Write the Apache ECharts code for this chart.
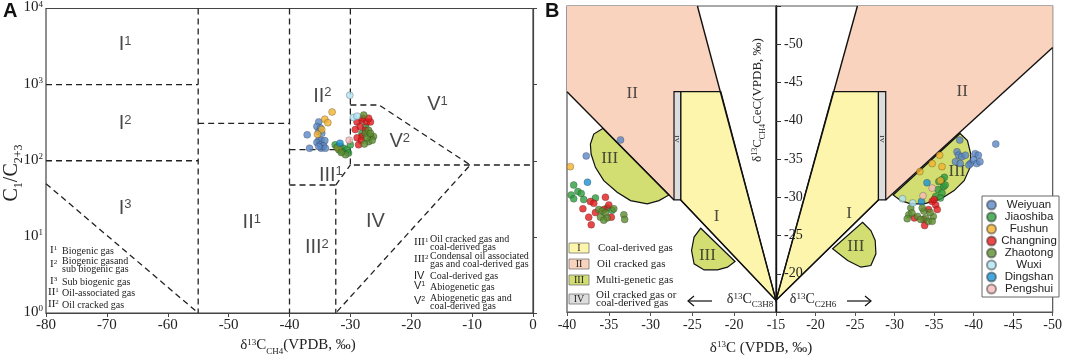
<!DOCTYPE html>
<html lang="en">
<head>
<meta charset="UTF-8" />
<script src="https://cdn.jsdelivr.net/npm/echarts@6/dist/echarts.min.js"></script>
<title>Gas genetic diagrams</title>
<style>
  html, body { margin: 0; padding: 0; background: #fff; }
  #app { width: 1065px; height: 358px; }
</style>
</head>
<body>
<div id="app"></div>
<script>
const sites = ["Weiyuan", "Jiaoshiba", "Fushun", "Changning", "Zhaotong", "Wuxi", "Dingshan", "Pengshui"];
const siteColors = ["#5b87c6", "#2e9c3f", "#f3b12c", "#e41a1c", "#5b8c2e", "#aee4f3", "#1a90d4", "#f6b9b9"];

// panel A: [d13C CH4, C1/C2+3]
const aWeiyuan = [[-37.1,219],[-36.7,146],[-35.2,324],[-35.5,282],[-34.9,269],[-35.2,240],[-34.7,229],[-35.2,186],[-34.8,186],[-34.2,184],[-35.5,174],[-34.9,162],[-34.4,157],[-34.8,146],[-34.1,146],[-35.2,154]];
const aJiaoshiba = [[-32.5,162],[-31.65,154],[-31.1,146],[-30.55,140],[-31.4,132],[-31.9,140],[-30.0,162],[-28.1,229],[-27.5,282],[-30.3,126]];
const aFushun = [[-33.0,437],[-34.2,352],[-33.7,316],[-34.7,257],[-35.4,223],[-32.0,146]];
const aChangning = [[-28.9,324],[-28.1,343],[-27.3,324],[-26.7,324],[-28.4,282],[-29.2,257],[-27.5,251],[-28.0,363],[-27.0,363],[-28.1,209],[-28.9,200],[-28.2,184],[-28.65,162]];
const aZhaotong = [[-27.8,398],[-27.5,229],[-27.0,251],[-26.7,209],[-26.2,209],[-27.0,178],[-26.4,186],[-27.3,200],[-26.7,229],[-27.7,166],[-30.8,120],[-31.5,128],[-32.2,150]];
const aWuxi = [[-30.1,725],[-29.5,370],[-28.9,385]];
const aDingshan = [[-31.7,170]];
const aPengshui = [[-30.2,186]];

// panel B left: [d13C C3H8, d13C CH4]
const bLWeiyuan = [[-33.6,-37.5],[-37.7,-35.4]];
const bLJiaoshiba = [[-39.2,-31.6],[-39.5,-30.3],[-39.2,-29.8],[-38.7,-30.75],[-38.3,-30.5],[-38.0,-29.7],[-36.6,-29.9],[-35.2,-28.6],[-34.6,-28.3]];
const bLFushun = [[-39.6,-34.0]];
const bLChangning = [[-37.2,-29.45],[-36.8,-29.2],[-35.4,-30.0],[-35.0,-29.0],[-38.1,-28.5],[-36.6,-28.0],[-37.4,-27.4],[-37.1,-26.4],[-34.7,-27.4],[-35.6,-28.4]];
const bLZhaotong = [[-36.2,-28.4],[-35.8,-28.2],[-35.4,-27.95],[-36.0,-27.4],[-35.2,-27.3],[-35.6,-27.0],[-34.4,-28.5],[-33.2,-27.7],[-33.1,-27.1]];
const bLWuxi = [];
const bLDingshan = [[-37.55,-31.97]];
const bLPengshui = [];

// panel B right: [d13C C2H6, d13C CH4]
const bRWeiyuan = [[-38.24,-37.47],[-37.9,-35.95],[-38.1,-35.5],[-37.7,-34.65],[-38.5,-35.3],[-38.96,-35.5],[-38.3,-34.4],[-39.6,-34.4],[-40.2,-35.7],[-40.6,-35.5],[-40.0,-34.9],[-40.4,-34.4],[-40.8,-34.65],[-39.4,-34.2],[-42.8,-36.95]];
const bRJiaoshiba = [[-35.6,-32.05],[-36.0,-32.3],[-36.2,-31.4],[-35.5,-31.0],[-36.0,-30.55],[-35.2,-30.1],[-35.8,-29.9],[-36.4,-31.6],[-36.3,-32.6]];
const bRFushun = [[-35.7,-35.5],[-34.76,-34.4],[-36.0,-34.0],[-33.2,-33.35],[-35.8,-32.2]];
const bRChangning = [[-34.76,-29.45],[-35.2,-29.0],[-34.3,-28.4],[-35.4,-28.4],[-33.7,-27.1],[-33.8,-26.3],[-32.5,-27.3],[-35.0,-29.7]];
const bRZhaotong = [[-32.05,-28.6],[-31.8,-27.7],[-31.6,-27.2],[-32.9,-27.5],[-33.7,-28.2],[-33.9,-27.3],[-34.3,-26.85],[-34.9,-27.5],[-34.76,-26.85],[-33.3,-27.1],[-32.2,-27.95],[-33.5,-28.6],[-34.5,-28.0]];
const bRWuxi = [[-31.0,-29.8],[-32.3,-29.25]];
const bRDingshan = [[-34.1,-31.9],[-33.4,-29.45]];
const bRPengshui = [[-34.76,-31.2],[-33.6,-30.2]];

// panel A dashed zone boundaries
const aBoundaries = [
  [[-80,1000],[-55,1000]],
  [[-80,100],[-55,100]],
  [[-80,50],[-55,1]],
  [[-55,10000],[-55,1]],
  [[-55,310],[-40,310]],
  [[-40,10000],[-40,1]],
  [[-40,140],[-30,140]],
  [[-40,48],[-32.4,48],[-32.4,1]],
  [[-32.4,48],[-30,88]],
  [[-30,10000],[-30,88],[0,88]],
  [[-30,540],[-25.3,540],[-10.3,88],[-32.4,1]]
];
const aZoneNames = ["I","I","I","II","II","III","III","IV","V","V"];
const aZoneSups = ["1","2","3","2","1","1","2","","1","2"];
const aZoneAt = [[-67,3240],[-67,300],[-67,23],[-34.6,680],[-46.2,14.8],[-33.2,63],[-35.5,7],[-25.9,15.5],[-15.7,525],[-21.9,174]];

// panel B zones, left half (C3H8) and right half (C2H6)
const bLeftPink = [[-40,-55],[-24.4,-55],[-21.6,-43.8],[-27.2,-43.8],[-27.2,-29.65],[-40,-43.8]];
const bLeftYellow = [[-26.4,-43.8],[-21.6,-43.8],[-15,-16.52],[-26.4,-29.65]];
const bLeftGray = [[-27.2,-43.8],[-26.4,-43.8],[-26.4,-29.65],[-27.2,-29.65]];
const bLeftLobeUpper = [[-35.72,-39.0],[-36.8,-38.26],[-37.2,-36.96],[-37.12,-35.65],[-36.6,-33.91],[-35.6,-32.17],[-34.0,-30.65],[-32.4,-29.56],[-30.4,-29.13],[-29.0,-29.56],[-27.8,-30.3]];
const bLeftLobeLower = [[-24.0,-25.95],[-24.8,-24.8],[-25.1,-23.04],[-24.8,-21.3],[-23.6,-20.5],[-22.0,-20.5],[-20.8,-20.86],[-19.9,-21.6]];
const bLeftEdges = [
  [[-24.4,-55],[-15,-16.52]],
  [[-40,-43.8],[-27.2,-29.65]],
  [[-26.4,-29.65],[-15,-16.52]]
];
const bRightPink = [[-25.3,-55],[-50,-55],[-50,-49.57],[-28.88,-29.65],[-28.88,-43.8],[-22.24,-43.8]];
const bRightYellow = [[-22.24,-43.8],[-27.96,-43.8],[-27.96,-29.65],[-15,-16.52]];
const bRightGray = [[-27.96,-43.8],[-28.88,-43.8],[-28.88,-29.65],[-27.96,-29.65]];
const bRightLobeUpper = [[-38.29,-38.34],[-39.22,-37.4],[-39.64,-35.65],[-39.55,-33.9],[-38.8,-32.17],[-37.53,-30.87],[-35.85,-29.78],[-33.74,-29.13],[-32.06,-29.13],[-30.8,-29.56],[-29.82,-30.3]];
const bRightLobeLower = [[-25.95,-26.73],[-27.0,-25.65],[-27.55,-24.35],[-27.64,-22.6],[-27.0,-21.08],[-25.74,-20.86],[-24.06,-21.74],[-22.16,-23.26]];
const bRightEdges = [
  [[-25.3,-55],[-15,-16.52]],
  [[-50,-49.57],[-28.88,-29.65]],
  [[-27.96,-29.65],[-15,-16.52]]
];
const bLeftZoneNames = ["II","III","III","I"];
const bLeftZoneAt = [[-32.2,-43.5],[-34.9,-35.0],[-23.2,-22.4],[-22.1,-27.5]];
const bRightZoneNames = ["II","III","III","I"];
const bRightZoneAt = [[-38.56,-43.8],[-37.9,-33.3],[-25.1,-23.6],[-24.26,-27.9]];

const SERIF = "Liberation Serif";
const SANS = "Liberation Sans";
const PINK = "#f9d3bd", YELLOW = "#fdf5ab", GREEN = "#d3de72", GRAY = "#dddddd";
const INK = "#222";

function richSet(size, family) {
  family = family || SERIF;
  const small = Math.round(size * 0.62);
  return {
    n: { fontFamily: family, fontSize: size, verticalAlign: "top", lineHeight: size + 2, color: INK },
    p: { fontFamily: family, fontSize: small, verticalAlign: "top", color: INK },
    b: { fontFamily: family, fontSize: small, verticalAlign: "bottom", lineHeight: size + 3, color: INK }
  };
}

function txt(x, y, text, size, opts) {
  opts = opts || {};
  return {
    type: "text", x: x, y: y, rotation: opts.rotation || 0, silent: true, z: 50,
    style: {
      text: text, rich: richSet(size, opts.family), fill: INK,
      font: size + "px " + (opts.family || SERIF),
      align: opts.align || "left", verticalAlign: "middle",
      textAlign: opts.align || "left", textVerticalAlign: "middle"
    }
  };
}

const aSets = [aWeiyuan, aJiaoshiba, aFushun, aChangning, aZhaotong, aWuxi, aDingshan, aPengshui];
const bLSets = [bLWeiyuan, bLJiaoshiba, bLFushun, bLChangning, bLZhaotong, bLWuxi, bLDingshan, bLPengshui];
const bRSets = [bRWeiyuan, bRJiaoshiba, bRFushun, bRChangning, bRZhaotong, bRWuxi, bRDingshan, bRPengshui];

function zoneSeries(shapes, xi, yi) {
  return {
    type: "custom", xAxisIndex: xi, yAxisIndex: yi, silent: true, z: 1,
    data: shapes.map(s => s.pts[0]),
    renderItem: function (params, api) {
      const s = shapes[params.dataIndex];
      const pts = s.pts.map(p => api.coord(p));
      if (s.fill) {
        return { type: "polygon", shape: { points: pts },
          style: { fill: s.fill, stroke: s.stroke ? "#111" : null, lineWidth: 1.2 } };
      }
      return { type: "polyline", shape: { points: pts }, style: { stroke: "#111", lineWidth: 1.4, fill: null } };
    }
  };
}

const leftShapes = [
  { pts: bLeftPink, fill: PINK },
  { pts: bLeftYellow, fill: YELLOW, stroke: true },
  { pts: bLeftGray, fill: GRAY, stroke: true },
  { pts: bLeftLobeUpper, fill: GREEN, stroke: true },
  { pts: bLeftLobeLower, fill: GREEN, stroke: true }
].concat(bLeftEdges.map(e => ({ pts: e })));
const rightShapes = [
  { pts: bRightPink, fill: PINK },
  { pts: bRightYellow, fill: YELLOW, stroke: true },
  { pts: bRightGray, fill: GRAY, stroke: true },
  { pts: bRightLobeUpper, fill: GREEN, stroke: true },
  { pts: bRightLobeLower, fill: GREEN, stroke: true }
].concat(bRightEdges.map(e => ({ pts: e })));

const series = [];
aBoundaries.forEach(seg => series.push({
  type: "line", xAxisIndex: 0, yAxisIndex: 0, data: seg, symbol: "none", silent: true, z: 2,
  lineStyle: { color: "#222", width: 1.3, type: [6, 4] }
}));
series.push(zoneSeries(leftShapes, 1, 1));
series.push(zoneSeries(rightShapes, 2, 2));

series.push({
  type: "scatter", xAxisIndex: 0, yAxisIndex: 0, symbolSize: 0, silent: true, z: 3,
  data: aZoneAt,
  label: {
    show: true, position: "inside",
    formatter: p => "{n|" + aZoneNames[p.dataIndex] + "}" + (aZoneSups[p.dataIndex] ? "{p|" + aZoneSups[p.dataIndex] + "}" : ""),
    rich: {
      n: { fontFamily: SANS, fontSize: 20, verticalAlign: "top", lineHeight: 22, color: "#1a1a1a" },
      p: { fontFamily: SANS, fontSize: 13, verticalAlign: "top", color: "#1a1a1a" }
    }
  }
});
[[bLeftZoneAt, bLeftZoneNames, 1], [bRightZoneAt, bRightZoneNames, 2]].forEach(function (z) {
  series.push({
    type: "scatter", xAxisIndex: z[2], yAxisIndex: z[2], symbolSize: 0, silent: true, z: 3,
    data: z[0],
    label: { show: true, position: "inside", formatter: p => z[1][p.dataIndex],
      fontFamily: SERIF, fontSize: 17, color: INK }
  });
});

sites.forEach(function (name, i) {
  const style = { color: siteColors[i], borderColor: "rgba(30,30,30,0.55)", borderWidth: 0.6 };
  [[aSets[i], 0], [bLSets[i], 1], [bRSets[i], 2]].forEach(function (d) {
    series.push({ type: "scatter", name: name, xAxisIndex: d[1], yAxisIndex: d[1], data: d[0],
      symbolSize: 7, itemStyle: style, z: 5 });
  });
});

const tickFont = { fontFamily: SERIF, color: INK };

const option = {
  animation: false,
  backgroundColor: "#fff",
  grid: [
    { left: 46, top: 6, width: 487, height: 307, show: true, borderColor: "#444", borderWidth: 1.2 },
    { left: 567, top: 6, width: 209, height: 306, show: true, borderColor: "#555", borderWidth: 1.2 },
    { left: 776, top: 6, width: 279, height: 306, show: true, borderColor: "#555", borderWidth: 1.2 }
  ],
  xAxis: [
    { gridIndex: 0, type: "value", min: -80, max: 0, interval: 10, splitLine: { show: false },
      axisLine: { lineStyle: { color: "#444", width: 1.2 } }, axisTick: { length: 4, lineStyle: { color: "#444" } },
      axisLabel: Object.assign({ fontSize: 15, margin: 5 }, tickFont) },
    { gridIndex: 1, type: "value", min: -40, max: -15, interval: 5, splitLine: { show: false },
      axisLine: { lineStyle: { color: "#555", width: 1.2 } }, axisTick: { length: 4, lineStyle: { color: "#555" } },
      axisLabel: Object.assign({ fontSize: 14, margin: 6 }, tickFont) },
    { gridIndex: 2, type: "value", min: -50, max: -15, interval: 5, inverse: true, splitLine: { show: false },
      axisLine: { lineStyle: { color: "#555", width: 1.2 } }, axisTick: { length: 4, lineStyle: { color: "#555" } },
      axisLabel: Object.assign({ fontSize: 14, margin: 6, showMinLabel: true, formatter: v => v === -15 ? "" : v }, tickFont) }
  ],
  yAxis: [
    { gridIndex: 0, type: "log", logBase: 10, min: 1, max: 10000, splitLine: { show: false },
      axisLine: { lineStyle: { color: "#444", width: 1.2 } }, axisTick: { inside: true, length: 4, lineStyle: { color: "#444" } },
      axisLabel: { margin: 3, formatter: v => "{n|10}{p|" + Math.round(Math.log10(v)) + "}", rich: richSet(15) } },
    { gridIndex: 1, type: "value", min: -55, max: -15, inverse: true, show: false },
    { gridIndex: 2, type: "value", min: -55, max: -15, interval: 5, inverse: true, position: "left", z: 20,
      splitLine: { show: false },
      axisLine: { lineStyle: { color: "#111", width: 1.4 } },
      axisTick: { inside: true, length: 5, lineStyle: { color: "#333" } },
      axisLabel: Object.assign({ inside: true, fontSize: 14, margin: 8, formatter: v => (v >= -50 && v <= -20) ? v : "" }, tickFont) }
  ],
  legend: {
    data: sites, orient: "vertical", left: 982, top: 196, selectedMode: false,
    itemWidth: 9, itemHeight: 9, itemGap: 0, itemTextGap: 2, icon: "circle",
    padding: [3, 2, 2, 4], borderColor: "#666", borderWidth: 1, backgroundColor: "#fff",
    formatter: n => "{c|" + n + "}",
    textStyle: { fontFamily: SANS, fontSize: 12, color: INK,
      rich: { c: { width: 56, align: "center", fontFamily: SANS, fontSize: 11.5, lineHeight: 14.3, color: INK } } }
  },
  graphic: [
    { type: "text", x: 3, y: 1, silent: true, style: { text: "A", font: "bold 20px " + SANS, fill: "#111" } },
    { type: "text", x: 545, y: 1, silent: true, style: { text: "B", font: "bold 20px " + SANS, fill: "#111" } },
    // panel A axis titles
    txt(298, 347, "{n|δ}{p|13}{n|C}{b|CH4}{n|(VPDB, ‰)}", 15, { align: "center" }),
    txt(13, 173, "{n|C}{b|1}{n|/C}{b|2+3}", 20, { align: "center", rotation: Math.PI / 2 }),
    // panel A key, lower left
    txt(50, 251, "{n|I}{p|1}", 11), txt(62, 251, "Biogenic gas", 10),
    txt(50, 265, "{n|I}{p|2}", 11), txt(62, 261, "Biogenic gasand", 10), txt(62, 269.5, "sub biogenic gas", 10),
    txt(50, 282, "{n|I}{p|3}", 11), txt(62, 282, "Sub biogenic gas", 10),
    txt(48, 293, "{n|II}{p|1}", 11), txt(62, 293, "Oil-associated gas", 10),
    txt(48, 305, "{n|II}{p|2}", 11), txt(62, 305, "Oil cracked gas", 10),
    // panel A key, lower right
    txt(414, 243, "{n|III}{p|1}", 11), txt(430, 239.5, "Oil cracked gas and", 10), txt(430, 247, "coal-derived gas", 10),
    txt(414, 260, "{n|III}{p|2}", 11), txt(430, 256, "Condensal oil associated", 10), txt(430, 264.5, "gas and coal-derived gas", 10),
    txt(414, 276, "IV", 11, { family: SANS }), txt(430, 276, "Coal-derived gas", 10),
    txt(414, 287, "{n|V}{p|1}", 11, { family: SANS }), txt(430, 287, "Abiogenetic gas", 10),
    txt(414, 302, "{n|V}{p|2}", 11, { family: SANS }), txt(430, 298.5, "Abiogenetic gas and", 10), txt(430, 306, "coal-derived gas", 10),
    // panel B key, lower left
    { type: "rect", silent: true, shape: { x: 569, y: 243, width: 20, height: 10 }, style: { fill: YELLOW, stroke: "#777", lineWidth: 0.8 } },
    { type: "rect", silent: true, shape: { x: 569, y: 259, width: 20, height: 10 }, style: { fill: PINK, stroke: "#777", lineWidth: 0.8 } },
    { type: "rect", silent: true, shape: { x: 569, y: 275, width: 20, height: 10 }, style: { fill: GREEN, stroke: "#777", lineWidth: 0.8 } },
    { type: "rect", silent: true, shape: { x: 569, y: 294, width: 20, height: 10 }, style: { fill: GRAY, stroke: "#777", lineWidth: 0.8 } },
    txt(579, 248, "I", 10, { align: "center" }), txt(579, 264, "II", 10, { align: "center" }),
    txt(579, 280, "III", 10, { align: "center" }), txt(579, 299, "IV", 10, { align: "center" }),
    txt(598, 248, "Coal-derived gas", 11), txt(597, 264, "Oil cracked gas", 11),
    txt(596, 280, "Multi-genetic gas", 11),
    txt(596, 295.5, "Oil cracked gas or", 11), txt(596, 303.5, "coal-derived gas", 11),
    // panel B arrows and axis titles
    { type: "polyline", silent: true, shape: { points: [[694, 296], [688, 301], [694, 306]] }, style: { stroke: "#111", lineWidth: 1.2, fill: null } },
    { type: "line", silent: true, shape: { x1: 688, y1: 301, x2: 712, y2: 301 }, style: { stroke: "#111", lineWidth: 1.2 } },
    { type: "polyline", silent: true, shape: { points: [[865, 296], [871, 301], [865, 306]] }, style: { stroke: "#111", lineWidth: 1.2, fill: null } },
    { type: "line", silent: true, shape: { x1: 847, y1: 301, x2: 871, y2: 301 }, style: { stroke: "#111", lineWidth: 1.2 } },
    txt(750, 301, "{n|δ}{p|13}{n|C}{b|C3H8}", 14, { align: "center" }),
    txt(813, 301, "{n|δ}{p|13}{n|C}{b|C2H6}", 14, { align: "center" }),
    txt(761, 349, "{n|δ}{p|13}{n|C (VPDB, ‰)}", 15, { align: "center" }),
    txt(759, 100, "{n|δ}{p|13}{n|C}{b|CH4}{n|CeC(VPDB, ‰)}", 13, { align: "center", rotation: Math.PI / 2 }),
    txt(677, 139, "IV", 7, { align: "center", rotation: -Math.PI / 2 }),
    txt(882, 139, "IV", 7, { align: "center", rotation: -Math.PI / 2 })
  ],
  series: series
};

const chart = echarts.init(document.getElementById("app"));
chart.setOption(option);
</script>
</body>
</html>
